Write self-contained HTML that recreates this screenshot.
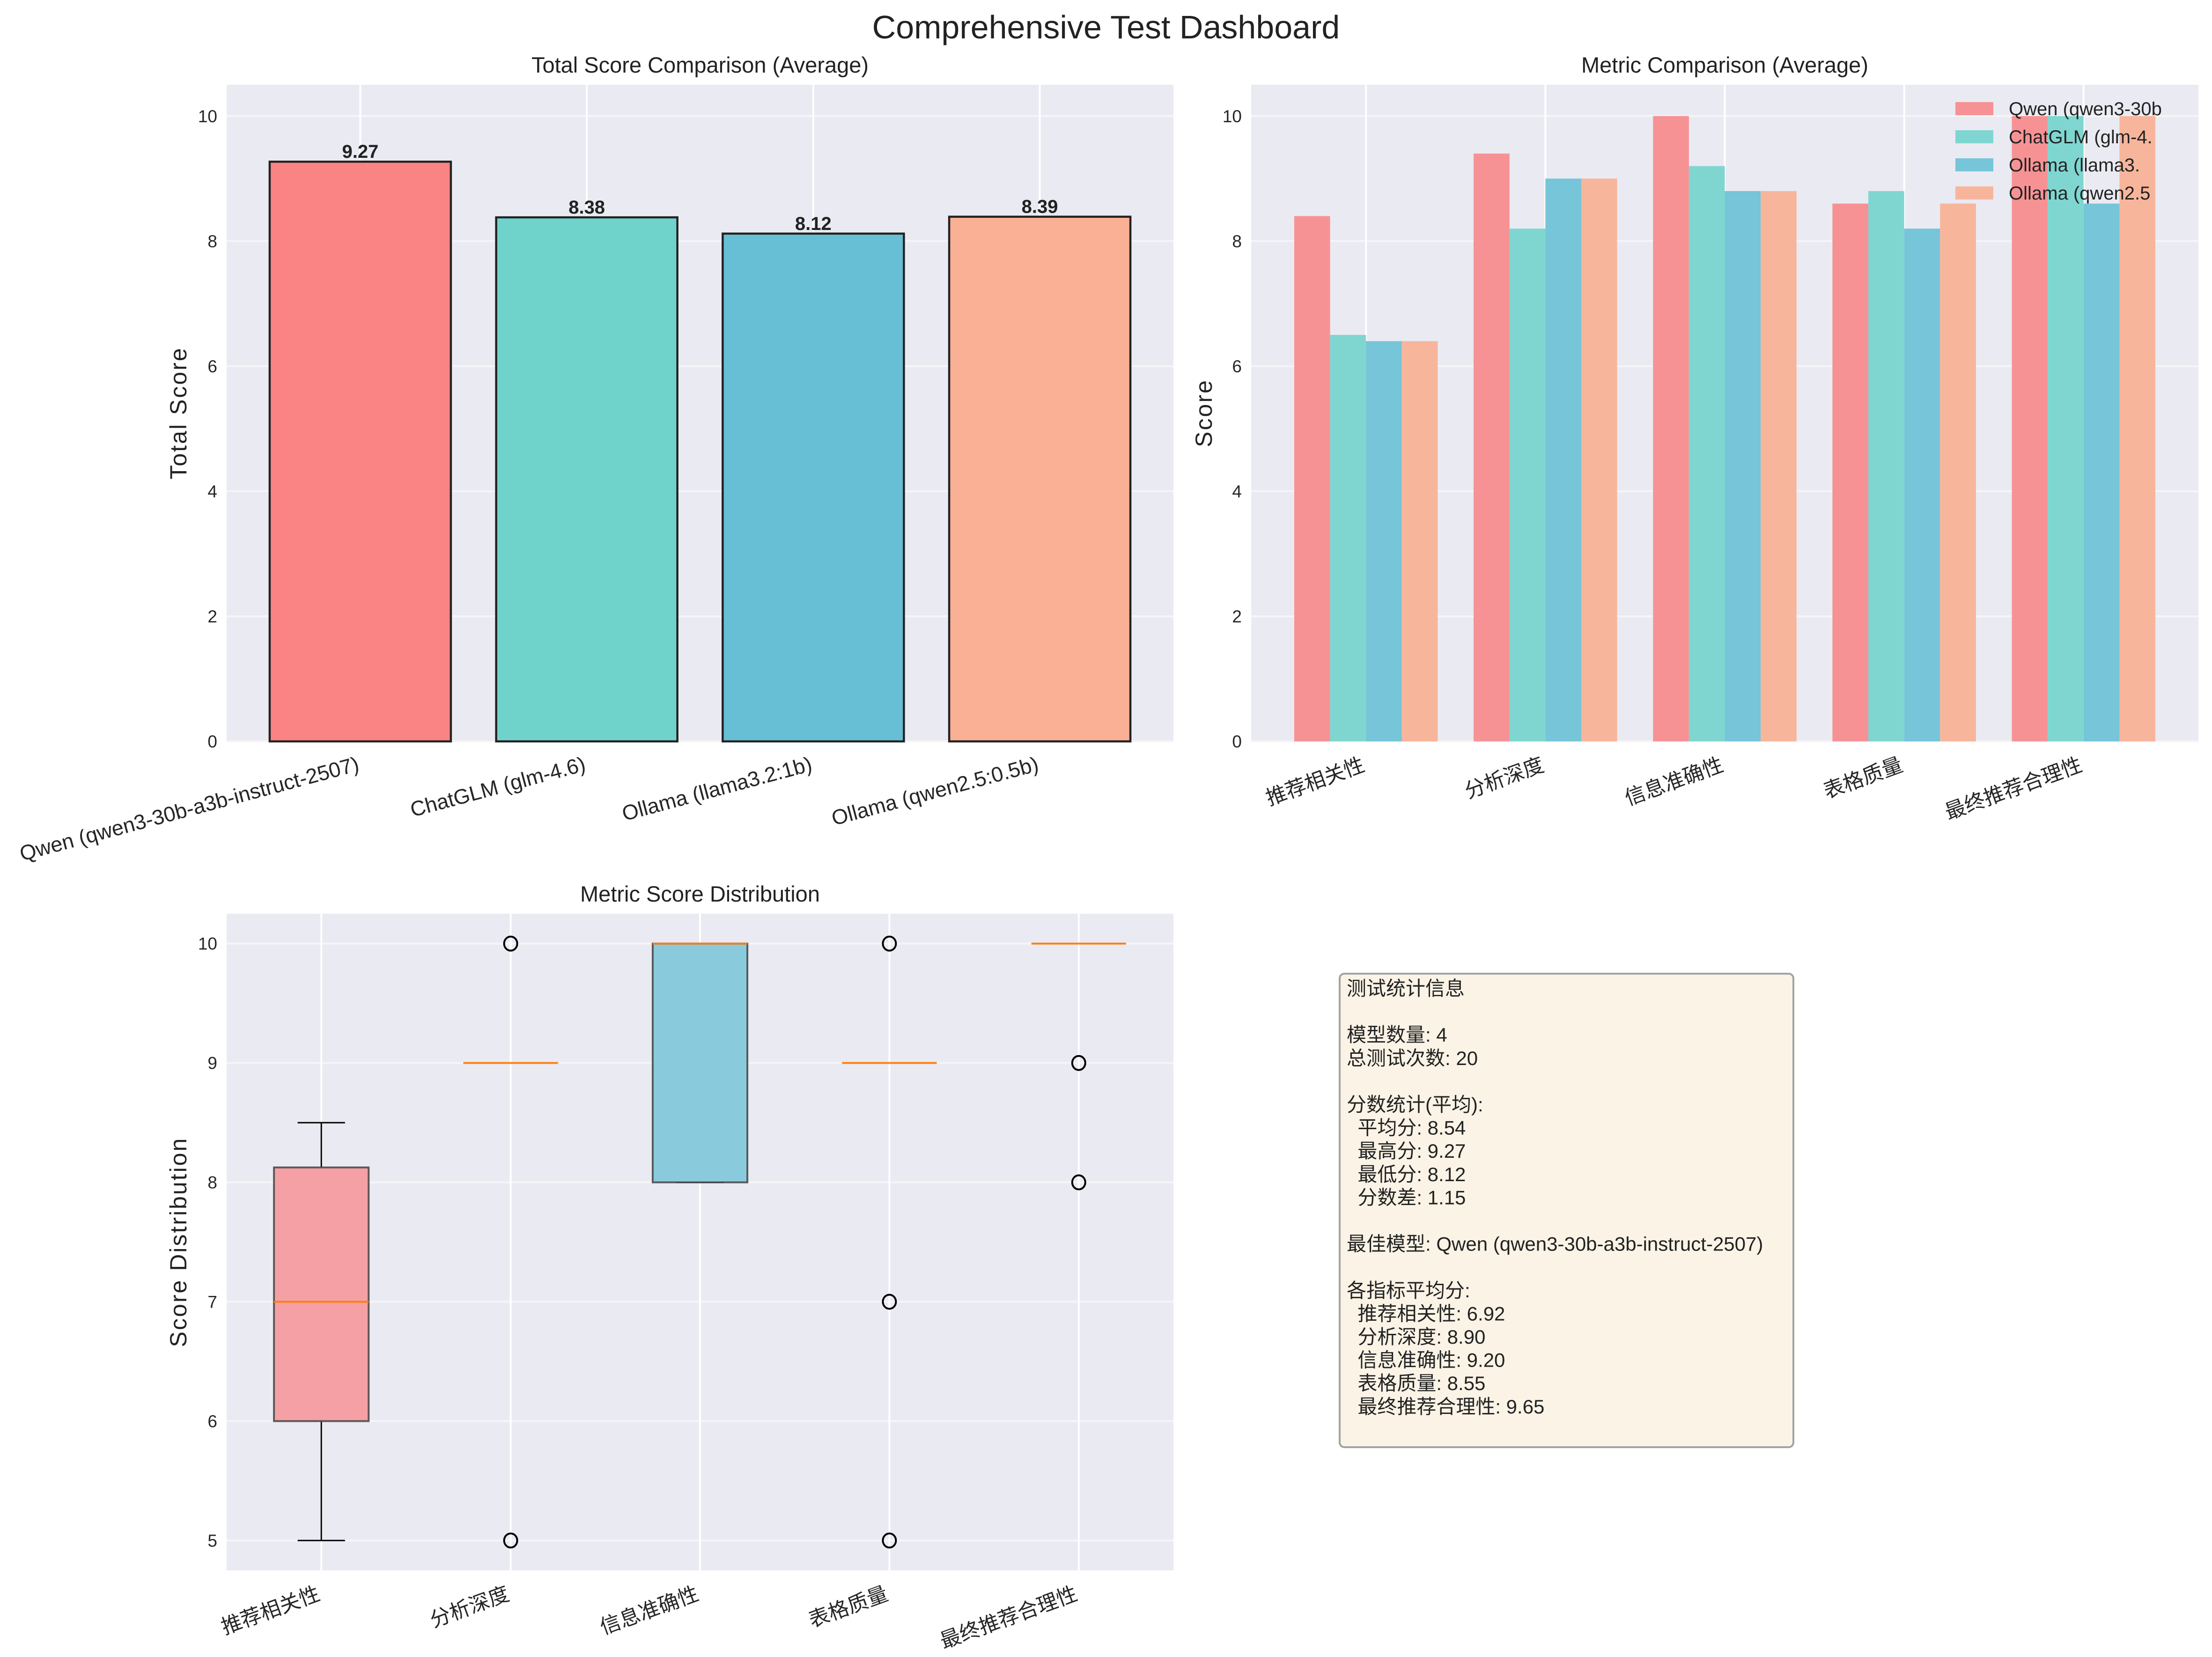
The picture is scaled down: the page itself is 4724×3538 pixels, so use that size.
<!DOCTYPE html>
<html><head><meta charset="utf-8">
<style>
html,body{margin:0;padding:0;background:#fff;}
svg{display:block;font-family:"Liberation Sans","Noto Sans CJK SC",sans-serif;}
</style></head>
<body>
<svg id="fig" width="4724" height="3538" viewBox="0 0 4724 3538" xmlns="http://www.w3.org/2000/svg">
<text x="2362" y="82" font-size="70" text-anchor="middle" fill="#222">Comprehensive Test Dashboard</text>
<g id="p1"></g>
<g id="p2"></g>
<g id="p3"></g>
<g id="p4"></g>
</svg>
<script>
const models = ["Qwen (qwen3-30b-a3b-instruct-2507)","ChatGLM (glm-4.6)","Ollama (llama3.2:1b)","Ollama (qwen2.5:0.5b)"];
const totalScores = [9.27, 8.38, 8.12, 8.39];
const metrics = ["推荐相关性","分析深度","信息准确性","表格质量","最终推荐合理性"];
const legendLabels = ["Qwen (qwen3-30b","ChatGLM (glm-4.","Ollama (llama3.","Ollama (qwen2.5"];
const qwenMetric = [8.4, 9.4, 10.0, 8.6, 10.0];
const glmMetric = [6.5, 8.2, 9.2, 8.8, 10.0];
const llamaMetric = [6.4, 9.0, 8.8, 8.2, 8.6];
const qwen25Metric = [6.4, 9.0, 8.8, 8.6, 10.0];
const yTicksTop = [0, 2, 4, 6, 8, 10];
const yTicksBox = [5, 6, 7, 8, 9, 10];
const boxQ1 = [6, 9, 8, 9, 10];
const boxMedian = [7, 9, 10, 9, 10];
const boxQ3 = [8.125, 9, 10, 9, 10];
const boxWhiskLo = [5, 9, 8, 9, 10];
const boxWhiskHi = [8.5, 9, 10, 9, 10];
const boxFliers = [[], [10, 5], [], [10, 7, 5], [9, 8]];
const statLines = ["测试统计信息","","模型数量: 4","总测试次数: 20","","分数统计(平均):","  平均分: 8.54","  最高分: 9.27","  最低分: 8.12","  分数差: 1.15","","最佳模型: Qwen (qwen3-30b-a3b-instruct-2507)","","各指标平均分:","  推荐相关性: 6.92","  分析深度: 8.90","  信息准确性: 9.20","  表格质量: 8.55","  最终推荐合理性: 9.65"];

const NS = "http://www.w3.org/2000/svg";
function mk(parent, tag, attrs, text) {
  const e = document.createElementNS(NS, tag);
  for (const k in attrs) e.setAttribute(k, attrs[k]);
  if (text !== undefined) e.textContent = text;
  parent.appendChild(e);
  return e;
}
function axes(g, L, T, R, B, xmin, xmax, ymin, ymax) {
  const sx = v => L + (v - xmin) / (xmax - xmin) * (R - L);
  const sy = v => B - (v - ymin) / (ymax - ymin) * (B - T);
  const bg = mk(g, "rect", {x: L, y: T, width: R - L, height: B - T, fill: "#eaeaf2"});
  
  
  return {sx, sy};
}
function hgrid(g, L, R, y) {
  const l = mk(g, "line", {x1: L, x2: R, y1: y, y2: y, stroke: "#f5f5f8", "stroke-width": 4});
  
  
}
function vgrid(g, T, B, x) {
  const l = mk(g, "line", {x1: x, x2: x, y1: T, y2: B, stroke: "#ffffff", "stroke-width": 4});
  
  
}
function ytick(g, L, y, label) {
  const t = mk(g, "text", {x: L - 20, y: y + 13, "font-size": 37, "text-anchor": "end", fill: "#262626"}, label);
  
  
}
function xtickRot(g, x, y, label, rot, fs) {
  const t = mk(g, "text", {x: x, y: y, "font-size": fs, "text-anchor": "end", fill: "#262626", transform: `rotate(-${rot} ${x} ${y})`}, label);
  
  
}
function title(g, cx, y, s) {
  const t = mk(g, "text", {x: cx, y: y, "font-size": 47, "text-anchor": "middle", fill: "#222"}, s);
  
  
}
function ylabel(g, x, cy, s) {
  const t = mk(g, "text", {x: x, y: cy, "font-size": 50, "letter-spacing": 3, "text-anchor": "middle", fill: "#222", transform: `rotate(-90 ${x} ${cy})`}, s);
  
  
}

// Panel 1
(function(){
  const g = document.getElementById("p1");
  const L = 484, R = 2506, T = 181, B = 1583;
  const {sx, sy} = axes(g, L, T, R, B, -0.59, 3.59, 0, 10.5);
  yTicksTop.forEach(v => { hgrid(g, L, R, sy(v)); ytick(g, L, sy(v), String(v)); });
  models.forEach((m, i) => vgrid(g, T, B, sx(i)));
  const cols = ["#fa8384", "#70d3cb", "#66bfd5", "#f9b095"];
  totalScores.forEach((v, i) => {
    const b = mk(g, "rect", {x: sx(i - 0.4), y: sy(v), width: sx(i + 0.4) - sx(i - 0.4), height: sy(0) - sy(v), fill: cols[i], stroke: "#222", "stroke-width": 4.5});
    
    
    const t = mk(g, "text", {x: sx(i), y: sy(v) - 8, "font-size": 40, "font-weight": "bold", "text-anchor": "middle", fill: "#222"}, v.toFixed(2));
    
    
    xtickRot(g, sx(i), B + 62, models[i], 15, 45);
  });
  title(g, (L + R) / 2, 155, "Total Score Comparison (Average)");
  ylabel(g, 398, (T + B) / 2, "Total Score");
})();

// Panel 2
(function(){
  const g = document.getElementById("p2");
  const L = 2672, R = 4695, T = 181, B = 1583;
  const {sx, sy} = axes(g, L, T, R, B, -0.64, 4.64, 0, 10.5);
  yTicksTop.forEach(v => { hgrid(g, L, R, sy(v)); ytick(g, L, sy(v), String(v)); });
  metrics.forEach((m, i) => vgrid(g, T, B, sx(i)));
  const series = [qwenMetric, glmMetric, llamaMetric, qwen25Metric];
  const cols = ["#f79294", "#7fd6d1", "#76c5d8", "#f7b69c"];
  const w = 0.2;
  series.forEach((s, k) => {
    s.forEach((v, i) => {
      const x0 = i + (k - 2) * w;
      const b = mk(g, "rect", {x: sx(x0), y: sy(v), width: sx(x0 + w) - sx(x0), height: sy(0) - sy(v), fill: cols[k]});
      
      
    });
  });
  metrics.forEach((m, i) => xtickRot(g, sx(i), B + 62, m, 20, 44));
  legendLabels.forEach((lab, k) => {
    const y = 232 + k * 60;
    const p = mk(g, "rect", {x: 4176, y: y - 14, width: 81, height: 28, fill: cols[k]});
    
    
    const t = mk(g, "text", {x: 4290, y: y + 14, "font-size": 40, fill: "#222"}, lab);
    
    
  });
  title(g, (L + R) / 2, 155, "Metric Comparison (Average)");
  ylabel(g, 2588, (T + B) / 2, "Score");
})();

// Panel 3
(function(){
  const g = document.getElementById("p3");
  const L = 484, R = 2506, T = 1951, B = 3353;
  const {sx, sy} = axes(g, L, T, R, B, 0.5, 5.5, 4.75, 10.25);
  yTicksBox.forEach(v => { hgrid(g, L, R, sy(v)); ytick(g, L, sy(v), String(v)); });
  metrics.forEach((m, i) => vgrid(g, T, B, sx(i + 1)));
  const fills = ["#f4a0a4", "#8ee0d9", "#89cbdc", "#f9bfa8", "#f9bfa8"];
  metrics.forEach((m, i) => {
    const c = sx(i + 1), hw = sx(1.25) - sx(1), cw = sx(1.125) - sx(1);
    const lo = sy(boxWhiskLo[i]), hi = sy(boxWhiskHi[i]), q1 = sy(boxQ1[i]), q3 = sy(boxQ3[i]);
    mk(g, "line", {x1: c, x2: c, y1: lo, y2: q1, stroke: "#000", "stroke-width": 3});
    mk(g, "line", {x1: c, x2: c, y1: q3, y2: hi, stroke: "#000", "stroke-width": 3});
    mk(g, "line", {x1: c - cw, x2: c + cw, y1: lo, y2: lo, stroke: "#000", "stroke-width": 3});
    mk(g, "line", {x1: c - cw, x2: c + cw, y1: hi, y2: hi, stroke: "#000", "stroke-width": 3});
    const b = mk(g, "rect", {x: c - hw, y: q3, width: 2 * hw, height: Math.max(q1 - q3, 0.01), fill: fills[i], stroke: "#444", "stroke-width": 4, "stroke-opacity": q1 - q3 > 1 ? 0.85 : 0});
    
    
    const md = mk(g, "line", {x1: c - hw, x2: c + hw, y1: sy(boxMedian[i]), y2: sy(boxMedian[i]), stroke: "#ff7f0e", "stroke-width": 4});
    
    
    boxFliers[i].forEach(f => {
      const o = mk(g, "ellipse", {cx: c, cy: sy(f), rx: 14, ry: 15, fill: "none", stroke: "#000", "stroke-width": 4});
      
      
    });
    xtickRot(g, c, B + 62, m, 20, 44);
  });
  title(g, (L + R) / 2, 1925, "Metric Score Distribution");
  ylabel(g, 398, (T + B) / 2, "Score Distribution");
})();

// Panel 4
(function(){
  const g = document.getElementById("p4");
  const r = mk(g, "rect", {x: 2861, y: 2079, width: 969, height: 1011, rx: 10, fill: "#faf3e6", stroke: "#a3a3a3", "stroke-width": 4});
  
  
  statLines.forEach((s, i) => {
    if (!s) return;
    const t = mk(g, "text", {x: 2876, y: 2125 + i * 49.6, "font-size": 42, fill: "#222", "xml:space": "preserve", style: "white-space:pre"}, s);
    
    
  });
})();
</script>
</body></html>
